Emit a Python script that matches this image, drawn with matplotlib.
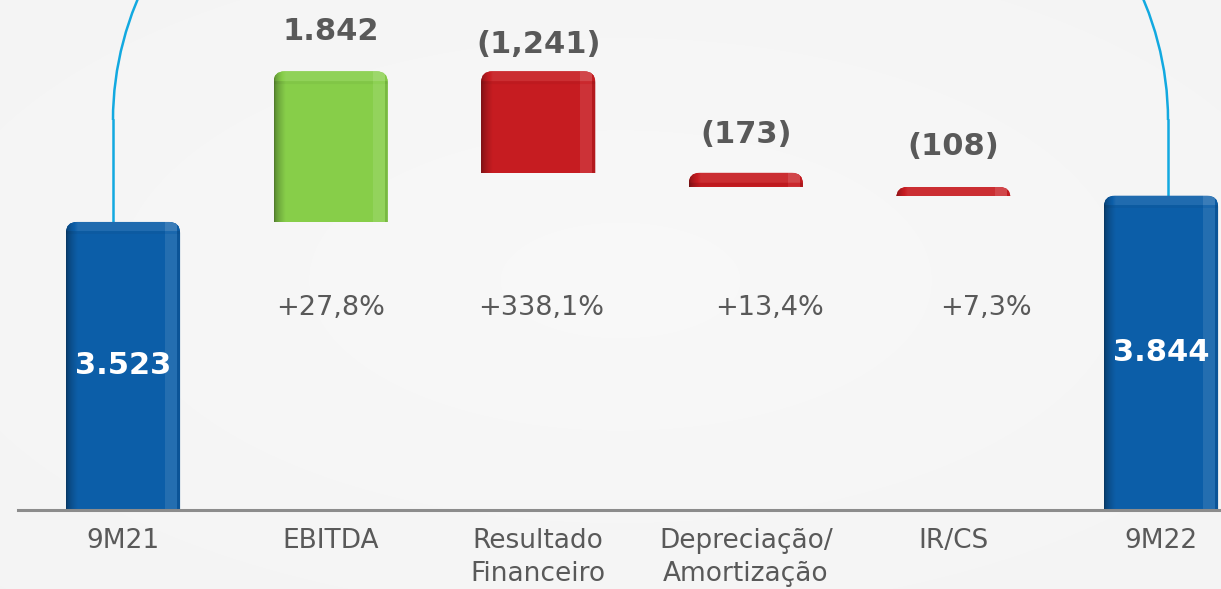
import numpy as np
import matplotlib.pyplot as plt
from matplotlib.patches import FancyBboxPatch, Rectangle, Arc

# dados (R$ milhões)
categorias = ['9M21', 'EBITDA', 'Resultado\nFinanceiro', 'Depreciação/\nAmortização', 'IR/CS', '9M22']
valores = [3523, 1842, -1241, -173, -108, 3844]
rotulos = ['3.523', '1.842', '(1,241)', '(173)', '(108)', '3.844']
variacoes = ['', '+27,8%', '+338,1%', '+13,4%', '+7,3%', '']

AZUL = (0.05, 0.37, 0.66)
VERDE = (0.53, 0.81, 0.29)
VERMELHO = (0.78, 0.11, 0.13)
CINZA = '#595959'

W, H = 1221, 589
fig = plt.figure(figsize=(W / 100, H / 100), dpi=100)

# fundo levemente radial
bg = fig.add_axes([0, 0, 1, 1], zorder=-1)
yy, xx = np.mgrid[0:H, 0:W]
d = np.sqrt(((xx - 620) / W) ** 2 + ((yy - 280) / H) ** 2)
g = 0.975 - 0.025 * np.clip(d, 0, 1)
bg.imshow(np.dstack([g, g, g]), aspect='auto', extent=(0, 1, 0, 1))
bg.axis('off')

base_px = 510
ax = fig.add_axes([0, (H - base_px) / H, 1, base_px / H])
ax.set_facecolor('none')
px_x = 207.6          # pixels por unidade de x
un_px = 12.23         # unidades de y por pixel
xlim = (-123 / px_x, (W - 123) / px_x)
ylim = (0, base_px * un_px)


def tom(c, f):
    c = np.array(c)
    if f <= 1:
        return c * f
    return c + (1 - c) * (f - 1)


def barra(ax, x, bottom, height, cor, w=0.55):
    r = 11
    rx, ry = r / px_x, r * un_px
    top = bottom + height
    patch = FancyBboxPatch((x - w / 2, bottom - 3 * ry), w, height + 3 * ry,
                           boxstyle=f'round,pad=0,rounding_size={rx}',
                           mutation_aspect=ry / rx, facecolor=cor, edgecolor='none', zorder=2)
    clip = Rectangle((x - w / 2, bottom), w, height, transform=ax.transData)
    ax.add_patch(patch)
    patch.set_clip_path(clip)
    nx = 115
    ny = max(int(height / un_px), 2)
    u = np.linspace(0, 1, nx)
    fu = np.ones(nx)
    fu = np.where(u < 0.1, 0.6 + 0.4 * (u / 0.1) ** 0.6, fu)
    fu = np.where((u > 0.86) & (u < 0.97), 1.1, fu)
    fu = np.where(u >= 0.97, 0.9, fu)
    dpx = np.arange(ny)
    fv = np.ones(ny)
    fv = np.where(dpx < 10, 1.08, fv)
    fv = np.where((dpx >= 10) & (dpx < 13), 0.96, fv)
    arr = np.zeros((ny, nx, 3))
    for i in range(ny):
        for j in range(nx):
            f = fu[j] * fv[i]
            arr[i, j] = np.clip(tom(cor, f), 0, 1)
    img = ax.imshow(arr, extent=(x - w / 2, x + w / 2, bottom, top), aspect='auto',
                    origin='upper', interpolation='bilinear', zorder=3)
    img.set_clip_path(patch)
    return top


x = np.arange(len(categorias))
acum = 0
tops = []
for i, v in enumerate(valores):
    if i == 0 or i == len(valores) - 1:
        b, h, cor = 0, v, AZUL
        acum = v
    elif v >= 0:
        b, h, cor = acum, v, VERDE
        acum += v
    else:
        b, h, cor = acum + v, -v, VERMELHO
        acum += v
    tops.append(barra(ax, x[i], b, h, cor))

# rótulos de valor
dy_px = [0, 40, 27, 38, 40, 0]
for i, t in enumerate(rotulos):
    if i == 0 or i == len(rotulos) - 1:
        ax.text(x[i], valores[i] / 2, t, ha='center', va='center', color='white',
                fontsize=22, fontweight='bold', zorder=5)
    else:
        ax.text(x[i], tops[i] + dy_px[i] * un_px, t, ha='center', va='center', color=CINZA,
                fontsize=22, fontweight='bold', zorder=5)

# variações
dx_px = [0, 0, 3, 24, 33, 0]
for i, t in enumerate(variacoes):
    if t:
        ax.text(x[i] + dx_px[i] / px_x, (base_px - 308) * un_px, t, ha='center', va='center',
                color=CINZA, fontsize=19.5, zorder=5)

# conector em arco
x0, x1 = -10 / px_x, x[-1] + 7 / px_x
y_curva = (base_px - 120) * un_px
cor_arco = '#12A9E0'
ax.plot([x0, x0], [valores[0], y_curva], color=cor_arco, lw=1.8, zorder=1)
ax.plot([x1, x1], [valores[-1], y_curva], color=cor_arco, lw=1.8, zorder=1)
ax.add_patch(Arc(((x0 + x1) / 2, y_curva), x1 - x0, 2 * 400 * un_px, theta1=0, theta2=180,
                 color=cor_arco, lw=1.8, zorder=1))

ax.axhline(0, xmin=18 / W, xmax=1, color='#8C8C8C', lw=2.2, zorder=6, clip_on=False)

ax.set_xticks(x)
ax.set_xticklabels(categorias, fontsize=19, color=CINZA, linespacing=1.35)
ax.tick_params(axis='x', length=0, pad=13)
ax.set_yticks([])
for s in ax.spines.values():
    s.set_visible(False)
ax.set_xlim(*xlim)
ax.set_ylim(*ylim)

fig.savefig('out.png', dpi=100)
